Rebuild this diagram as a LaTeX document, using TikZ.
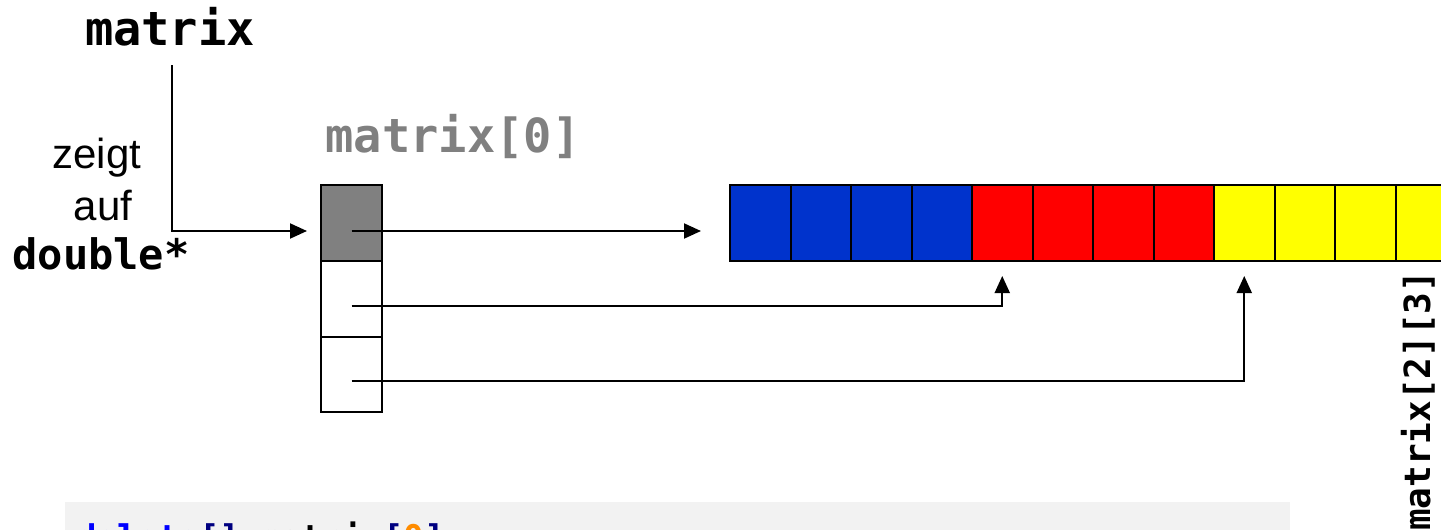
\documentclass[tikz,border=0pt]{standalone}
\usepackage{fontspec}
\setmainfont{Liberation Sans}
\newfontfamily\dmono{DejaVu Sans Mono}
\usetikzlibrary{arrows.meta}
\definecolor{cblue}{HTML}{0033CC}
\definecolor{cred}{HTML}{FF0000}
\definecolor{cyel}{HTML}{FFFF00}
\definecolor{cgray}{HTML}{808080}
\definecolor{codebg}{HTML}{F2F2F2}
\definecolor{kwblue}{HTML}{0000FF}
\definecolor{navy}{HTML}{000080}
\definecolor{numor}{HTML}{FF8C00}
\begin{document}
\begin{tikzpicture}[x=1pt,y=-1pt,
  cellbox/.style={draw=black, line width=2pt, minimum width=60.5pt, minimum height=76pt, inner sep=0pt, outer sep=0pt},
  ptrbox/.style={draw=black, line width=2pt, minimum width=61pt, minimum height=75.5pt, inner sep=0pt, outer sep=0pt},
  arr/.style={line width=2pt, -{Triangle[length=17pt,width=15pt]}},
  monob/.style={font=\dmono\bfseries\fontsize{#1}{#1}\selectfont, inner sep=0pt},
  sans/.style={font=\fontsize{42}{42}\selectfont, inner sep=0pt}
]
\useasboundingbox (0,0) rectangle (1441,530);

% code box
\fill[codebg] (65,502) rectangle (1290,580);
\node[monob=34, anchor=base west] (code) at (76,549)
  {\textcolor{kwblue}{delete}\textcolor{navy}{[]} matrix\textcolor{navy}{[}\textcolor{numor}{0}\textcolor{navy}{]}};

% labels
\node[monob=47, anchor=base] (mat) at (170,45) {matrix};
\node[monob=47, anchor=base, text=cgray] (m0) at (453,152) {matrix[0]};
\node[sans, anchor=base] (zeigt) at (97,168) {zeigt};
\node[sans, anchor=base] (auf) at (103,220) {auf};
\node[monob=42, anchor=base] (dbl) at (101,269) {double*};

% pointer array
\node[ptrbox, fill=cgray] (p0) at (351.5,223) {};
\node[ptrbox] (p1) at (351.5,299) {};
\node[ptrbox] (p2) at (351.5,374.5) {};

% data array
\foreach \i/\c in {0/cblue,1/cblue,2/cblue,3/cblue,4/cred,5/cred,6/cred,7/cred,8/cyel,9/cyel,10/cyel,11/cyel}{
  \node[cellbox, fill=\c] (d\i) at ({730+60.5*\i+30.25},223) {};
}

% rotated label
\node[monob=36, rotate=90, anchor=base west] (m23) at (1430,531) {matrix[2][3]};

% connectors
\coordinate (top) at (172,65);
\coordinate (a0) at ([yshift=-8pt]p0.center);
\coordinate (a1) at ([yshift=-7pt]p1.center);
\coordinate (a2) at ([yshift=-6.5pt]p2.center);
\draw[arr, shorten >=14pt] (top) |- (a0 -| p0.west);
\draw[arr, shorten >=29pt] (a0) -- (a0 -| d0.west);
\draw[arr, shorten >=15pt] (a1) -| (d4.south);
\draw[arr, shorten >=15pt] (a2) -| (d8.south);
\end{tikzpicture}
\end{document}
